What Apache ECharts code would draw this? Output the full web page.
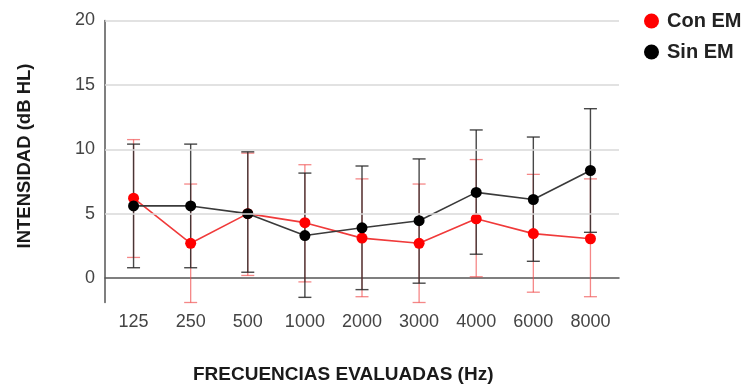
<!DOCTYPE html>
<html>
<head>
<meta charset="utf-8">
<script src="https://cdn.jsdelivr.net/npm/echarts@6/dist/echarts.min.js"></script>
<style>html,body{margin:0;padding:0;background:#fff}#chart{width:752px;height:387px}</style>
</head>
<body>
<div id="chart"></div>
<script>
const categories = ['125', '250', '500', '1000', '2000', '3000', '4000', '6000', '8000'];
const conMean = [6.2, 2.7, 5.0, 4.3, 3.1, 2.7, 4.6, 3.45, 3.05];
const conHigh = [10.75, 7.3, 9.7, 8.8, 7.7, 7.3, 9.2, 8.05, 7.7];
const conLow  = [1.6, -1.9, 0.2, -0.3, -1.45, -1.9, 0.1, -1.1, -1.45];
const sinMean = [5.6, 5.6, 5.0, 3.3, 3.9, 4.45, 6.65, 6.1, 8.35];
const sinHigh = [10.4, 10.4, 9.8, 8.15, 8.7, 9.25, 11.5, 10.95, 13.15];
const sinLow  = [0.8, 0.8, 0.45, -1.5, -0.9, -0.4, 1.85, 1.3, 3.55];
const yTicks = [0, 5, 10, 15, 20];
const gridValues = [5, 10, 15, 20];

const FONT = "'Liberation Sans', Arial, sans-serif";

function errorSeries(name, low, high, color, width) {
  return {
    type: 'custom',
    name: name,
    z: 1,
    clip: false,
    silent: true,
    data: categories.map((c, i) => [i, low[i], high[i]]),
    encode: { x: 0, y: [1, 2] },
    renderItem: function (params, api) {
      const i = api.value(0);
      const lo = api.coord([i, api.value(1)]);
      const hi = api.coord([i, api.value(2)]);
      const hw = 6.5;
      const style = { stroke: color, lineWidth: width, fill: null };
      return {
        type: 'group',
        children: [
          { type: 'line', shape: { x1: lo[0], y1: lo[1], x2: hi[0], y2: hi[1] }, style: style },
          { type: 'line', shape: { x1: lo[0] - hw, y1: lo[1], x2: lo[0] + hw, y2: lo[1] }, style: style },
          { type: 'line', shape: { x1: hi[0] - hw, y1: hi[1], x2: hi[0] + hw, y2: hi[1] }, style: style }
        ]
      };
    }
  };
}

const chart = echarts.init(document.getElementById('chart'), null, { renderer: 'canvas' });
chart.setOption({
  animation: false,
  backgroundColor: '#ffffff',
  textStyle: { fontFamily: FONT },
  grid: { left: 105, right: 133, top: 20.5, bottom: 84.5, containLabel: false },
  legend: {
    data: ['Con EM', 'Sin EM'],
    orient: 'vertical',
    left: 644,
    top: 11,
    padding: 0,
    itemGap: 11,
    icon: 'circle',
    itemWidth: 15,
    itemHeight: 15,
    textStyle: { fontFamily: FONT, fontSize: 20, fontWeight: 'bold', color: '#222', padding: [0, 0, 0, 3] }
  },
  xAxis: {
    type: 'category',
    data: categories,
    boundaryGap: true,
    axisLine: { onZero: true, lineStyle: { color: '#555', width: 1.5 } },
    axisTick: { show: false },
    axisLabel: { margin: 11, fontSize: 18, color: '#444', fontFamily: FONT },
    splitLine: { show: false }
  },
  yAxis: {
    type: 'value',
    min: -1.9,
    max: 20,
    axisLine: { show: true, onZero: false, lineStyle: { color: '#555', width: 1.5 } },
    axisTick: { show: false },
    axisLabel: { customValues: yTicks, margin: 10, fontSize: 18, color: '#444', fontFamily: FONT },
    splitLine: { show: false }
  },
  graphic: [
    {
      type: 'text', left: 193, top: 365,
      style: { text: 'FRECUENCIAS EVALUADAS (Hz)', font: "bold 19px " + FONT, fill: '#1a1a1a' }
    },
    {
      type: 'text', x: 25, y: 156, rotation: Math.PI / 2,
      style: { text: 'INTENSIDAD (dB HL)', font: "bold 18.5px " + FONT, fill: '#1a1a1a', align: 'center', verticalAlign: 'middle' }
    }
  ],
  series: [
    {
      type: 'line',
      name: 'grid',
      data: [],
      silent: true,
      z: 0,
      markLine: {
        silent: true,
        symbol: 'none',
        label: { show: false },
        lineStyle: { color: '#d9d9d9', width: 1.5, type: 'solid' },
        data: gridValues.map(v => ({ yAxis: v }))
      }
    },
    errorSeries('Con EM err', conLow, conHigh, 'rgba(240,70,70,0.65)', 1.3),
    errorSeries('Sin EM err', sinLow, sinHigh, 'rgba(40,40,40,0.85)', 1.4),
    {
      type: 'line', name: 'Con EM', data: conMean, z: 3,
      symbol: 'circle', symbolSize: 11,
      itemStyle: { color: '#ff0000' },
      lineStyle: { color: '#f03a3a', width: 1.6 }
    },
    {
      type: 'line', name: 'Sin EM', data: sinMean, z: 4,
      symbol: 'circle', symbolSize: 11,
      itemStyle: { color: '#000000' },
      lineStyle: { color: '#3a3a3a', width: 1.6 }
    }
  ]
});
</script>
</body>
</html>
